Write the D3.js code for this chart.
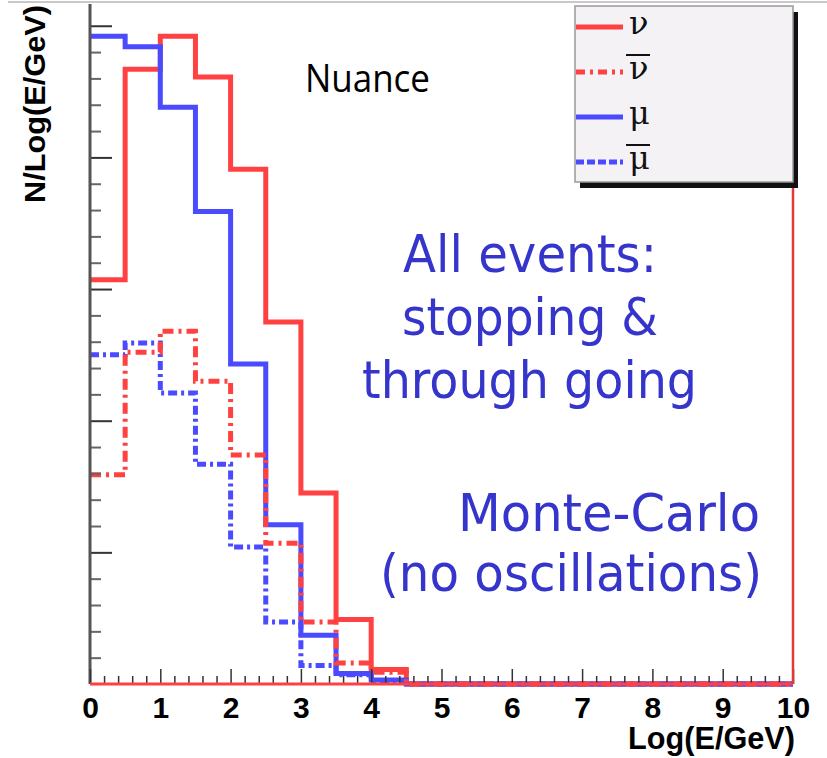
<!DOCTYPE html>
<html>
<head>
<meta charset="utf-8">
<script src="https://cdn.jsdelivr.net/npm/d3@7"></script>
<style>
  body { margin: 0; background: #fff; }
  svg { display: block; }
</style>
</head>
<body>
<svg class="chart"></svg>
<script>
// bin lower edges in Log(E/GeV), width 0.5
const binLow = [0, 0.5, 1, 1.5, 2, 2.5, 3, 3.5, 4, 4.5, 5, 5.5, 6, 6.5, 7, 7.5, 8, 8.5, 9, 9.5]
const binWidth = 0.5

// N / Log(E/GeV), arbitrary units (no y tick labels in the original)
const nu     = [3.07, 4.67, 4.92, 4.61, 3.91, 2.75, 1.45, 0.49, 0.11, 0, 0, 0, 0, 0, 0, 0, 0, 0, 0, 0]
const nubar  = [1.59, 2.52, 2.68, 2.30, 1.74, 1.07, 0.47, 0.16, 0.09, 0, 0, 0, 0, 0, 0, 0, 0, 0, 0, 0]
const mu     = [4.92, 4.84, 4.38, 3.59, 2.43, 1.21, 0.37, 0.08, 0.03, 0, 0, 0, 0, 0, 0, 0, 0, 0, 0, 0]
const mubar  = [2.50, 2.59, 2.21, 1.67, 1.04, 0.47, 0.14, 0.07, 0.02, 0, 0, 0, 0, 0, 0, 0, 0, 0, 0, 0]

const xTicks = [0, 1, 2, 3, 4, 5, 6, 7, 8, 9, 10]
const legendLabels = ['ν', 'ν', 'μ', 'μ']
const legendBar = [false, true, false, true]

const red = '#ff4141', blue = '#4a4aff'

window.onload = function() {
    let width = 827, height = 758
    let margin = {top: 6, right: 34, bottom: 74, left: 90}

    let svg = d3.select('.chart')
        .attr('width', width)
        .attr('height', height)

    let x = d3.scaleLinear()
        .domain([0, 10])
        .range([margin.left, width - margin.right])

    let y = d3.scaleLinear()
        .domain([0, 5.15])
        .range([height - margin.bottom, margin.top])

    // top frame line
    svg.append('line')
        .attr('x1', 8).attr('x2', width)
        .attr('y1', 2).attr('y2', 2)
        .attr('stroke', '#c8c8c8').attr('stroke-width', 2)

    // histograms
    let step = d3.line()
        .x(d => x(d[0]))
        .y(d => y(d[1]))
        .curve(d3.curveStepAfter)

    function histPoints(vals) {
        let pts = []
        vals.forEach((v, i) => pts.push([binLow[i], v]))
        pts.push([binLow[binLow.length - 1] + binWidth, vals[vals.length - 1]])
        return pts
    }

    let series = [
        {vals: nu, color: red, dash: null},
        {vals: mu, color: blue, dash: null},
        {vals: mubar, color: blue, dash: '9,4,3,4'},
        {vals: nubar, color: red, dash: '11,5,3,5'}
    ]

    svg.selectAll('path.hist')
        .data(series)
        .enter().append('path')
        .attr('class', 'hist')
        .attr('d', d => step(histPoints(d.vals)))
        .attr('fill', 'none')
        .attr('stroke', d => d.color)
        .attr('stroke-width', 5)
        .attr('stroke-dasharray', d => d.dash)
        .attr('stroke-linejoin', 'miter')

    // y axis: major + minor ticks, no labels
    let yMinor = d3.range(0, 5.15, 0.2).filter(v => Math.abs(v - Math.round(v)) > 0.01)
    svg.append('g')
        .attr('transform', `translate(${x(0)},0)`)
        .call(d3.axisLeft(y).tickValues(yMinor).tickSize(-11).tickFormat(''))
        .call(g => g.selectAll('line').attr('stroke', '#666').attr('stroke-width', 2))
        .call(g => g.select('.domain').remove())
    svg.append('g')
        .attr('transform', `translate(${x(0)},0)`)
        .call(d3.axisLeft(y).tickValues([1, 2, 3, 4, 5]).tickSize(-22).tickFormat(''))
        .call(g => g.selectAll('line').attr('stroke', '#333').attr('stroke-width', 2))
        .call(g => g.select('.domain').remove())
    svg.append('line')
        .attr('x1', x(0)).attr('x2', x(0))
        .attr('y1', 4).attr('y2', y(0))
        .attr('stroke', '#555').attr('stroke-width', 3)

    // x axis
    let xMinor = d3.range(0, 10, 0.2).filter(v => Math.abs(v - Math.round(v)) > 0.01)
    svg.append('g')
        .attr('transform', `translate(0,${y(0)})`)
        .call(d3.axisBottom(x).tickValues(xMinor).tickSize(-8).tickFormat(''))
        .call(g => g.selectAll('line').attr('stroke', '#333').attr('stroke-width', 1.5))
        .call(g => g.select('.domain').remove())
    svg.append('g')
        .attr('transform', `translate(0,${y(0)})`)
        .call(d3.axisBottom(x).tickValues(xTicks).tickSize(-15).tickPadding(13).tickFormat(d3.format('d')))
        .call(g => g.selectAll('line').attr('stroke', '#333').attr('stroke-width', 1.5))
        .call(g => g.select('.domain').remove())
        .call(g => g.selectAll('text')
            .attr('fill', '#000')
            .style('font-family', '"Liberation Sans", Arial, sans-serif')
            .style('font-weight', 'bold')
            .style('font-size', '30px'))
    // red baseline (empty bins run along the axis)
    svg.append('line')
        .attr('x1', x(0)).attr('x2', x(10))
        .attr('y1', y(0)).attr('y2', y(0))
        .attr('stroke', red).attr('stroke-width', 3)

    // right frame edge
    svg.append('line')
        .attr('x1', x(10)).attr('x2', x(10))
        .attr('y1', 188).attr('y2', y(0))
        .attr('stroke', '#e03a3a').attr('stroke-width', 2.5)

    // legend
    let legend = svg.append('g')
    legend.append('rect')
        .attr('x', 580).attr('y', 12).attr('width', 218).attr('height', 176)
        .attr('fill', '#111')
    legend.append('rect')
        .attr('x', 575).attr('y', 6).attr('width', 218).attr('height', 176)
        .attr('fill', '#f5f2f5').attr('stroke', '#999').attr('stroke-width', 1.5)

    let legendStyles = [
        {color: red, dash: null},
        {color: red, dash: '9,5,3,5'},
        {color: blue, dash: null},
        {color: blue, dash: '8,3'}
    ]
    let legendY = [27, 72, 117, 162]
    let item = legend.selectAll('g.item')
        .data(legendLabels)
        .enter().append('g')
        .attr('class', 'item')
        .attr('transform', (d, i) => `translate(576,${legendY[i]})`)
    item.append('line')
        .attr('x1', 0).attr('x2', 47)
        .attr('stroke', (d, i) => legendStyles[i].color)
        .attr('stroke-width', 5)
        .attr('stroke-dasharray', (d, i) => legendStyles[i].dash)
    item.append('text')
        .attr('x', 53).attr('y', 7)
        .text(d => d)
        .style('font-family', '"DejaVu Serif", serif')
        .style('font-size', '32px')
        .attr('fill', '#111')
    item.filter((d, i) => legendBar[i]).append('line')
        .attr('x1', 50).attr('x2', 74)
        .attr('y1', -17).attr('y2', -17)
        .attr('stroke', '#111').attr('stroke-width', 2)

    // annotations
    svg.append('text')
        .attr('x', 305).attr('y', 92)
        .attr('textLength', 125).attr('lengthAdjust', 'spacingAndGlyphs')
        .text('Nuance')
        .style('font-family', '"Open Sans", sans-serif')
        .style('font-size', '38px')
        .attr('fill', '#000')

    let notes = [
        {t: 'All events:', x0: 403, x1: 657, yb: 272},
        {t: 'stopping &', x0: 402, x1: 658, yb: 335},
        {t: 'through going', x0: 362, x1: 697, yb: 398},
        {t: 'Monte-Carlo', x0: 458, x1: 760, yb: 531},
        {t: '(no oscillations)', x0: 380, x1: 762, yb: 591}
    ]
    svg.selectAll('text.note')
        .data(notes)
        .enter().append('text')
        .attr('class', 'note')
        .attr('x', d => d.x0).attr('y', d => d.yb)
        .attr('textLength', d => d.x1 - d.x0).attr('lengthAdjust', 'spacingAndGlyphs')
        .text(d => d.t)
        .style('font-family', '"DejaVu Sans", sans-serif')
        .style('font-size', '52px')
        .attr('fill', '#3535cc')

    // axis titles
    svg.append('text')
        .attr('transform', 'translate(45,104) rotate(-90)')
        .attr('text-anchor', 'middle')
        .attr('textLength', 198).attr('lengthAdjust', 'spacingAndGlyphs')
        .text('N/Log(E/GeV)')
        .style('font-family', '"Liberation Sans", Arial, sans-serif')
        .style('font-weight', 'bold')
        .style('font-size', '30px')
        .attr('fill', '#000')

    svg.append('text')
        .attr('x', 628).attr('y', 749)
        .attr('textLength', 167).attr('lengthAdjust', 'spacingAndGlyphs')
        .text('Log(E/GeV)')
        .style('font-family', '"Liberation Sans", Arial, sans-serif')
        .style('font-weight', 'bold')
        .style('font-size', '31px')
        .attr('fill', '#000')
}
</script>
</body>
</html>
